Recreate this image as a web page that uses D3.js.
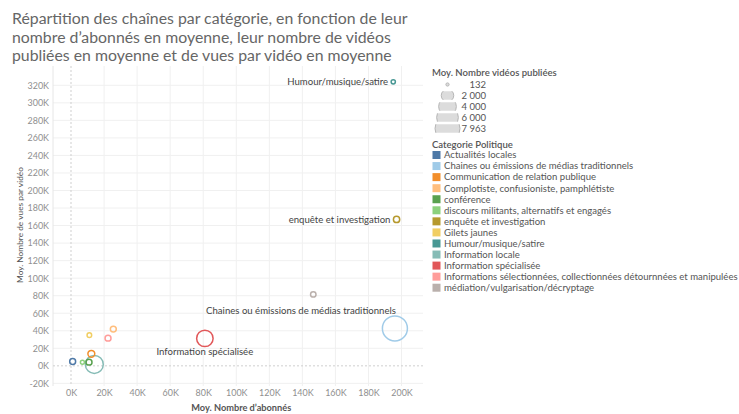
<!DOCTYPE html>
<html><head><meta charset="utf-8">
<script src="https://cdn.jsdelivr.net/npm/d3@7"></script>
<style>
body{margin:0;background:#fff;}
svg{display:block;font-family:Lato, "Open Sans", sans-serif;}
</style></head>
<body><svg id="chart" width="739" height="414"></svg>
<script>
const titleLines = [
  "Répartition des chaînes par catégorie, en fonction de leur",
  "nombre d’abonnés en moyenne, leur nombre de vidéos",
  "publiées en moyenne et de vues par vidéo en moyenne"
];
const categories = [
  "Actualités locales",
  "Chaines ou émissions de médias traditionnels",
  "Communication de relation publique",
  "Complotiste, confusioniste, pamphlétiste",
  "conférence",
  "discours militants, alternatifs et engagés",
  "enquête et investigation",
  "Gilets jaunes",
  "Humour/musique/satire",
  "Information locale",
  "Information spécialisée",
  "Informations sélectionnées, collectionnées détournnées et manipulées",
  "médiation/vulgarisation/décryptage"
];
const colors = ["#4E79A7","#A0CBE8","#F28E2B","#FFBE7D","#59A14F","#8CD17D","#B6992D","#F1CE63","#499894","#86BCB6","#E15759","#FF9D9A","#BAB0AC"];
// Moy. Nombre d'abonnés
const abonnes = [1000, 196000, 12300, 25600, 10900, 6900, 197000, 11100, 195000, 14100, 81000, 22400, 146600];
// Moy. Nombre de vues par vidéo
const vues = [5000, 42700, 13700, 41900, 4200, 4200, 167000, 35000, 324000, 1600, 31300, 31600, 81500];
// Moy. Nombre vidéos publiées
const videos = [450, 7963, 600, 450, 450, 132, 500, 270, 230, 4100, 3450, 450, 380];
const sizeLegend = [132, 2000, 4000, 6000, 7963];
const sizeLegendLabels = ["132", "2 000", "4 000", "6 000", "7 963"];
const xTicks = [0,20000,40000,60000,80000,100000,120000,140000,160000,180000,200000];
const yTicks = [-20000,0,20000,40000,60000,80000,100000,120000,140000,160000,180000,200000,220000,240000,260000,280000,300000,320000];
const labelled = ["Humour/musique/satire","enquête et investigation","Chaines ou émissions de médias traditionnels","Information spécialisée"];

const svg = d3.select("#chart");
const plot = {left:53, right:423, top:66, bottom:386};
const x = d3.scaleLinear().domain([-10900, 213000]).range([plot.left, plot.right]);
const y = d3.scaleLinear().domain([-23000, 342000]).range([plot.bottom, plot.top]);
const r = d3.scaleSqrt().domain([0, 7963]).range([0, 12.5]);
const color = d3.scaleOrdinal().domain(categories).range(colors);
const fmt = d => (d/1000) + "K";

// font size so that a sample text gets a given width
function fitSize(str, base, target, weight) {
  const t = svg.append("text").attr("font-size", base).attr("font-weight", weight || "normal").text(str);
  const w = t.node().getComputedTextLength();
  t.remove();
  return base * target / w;
}
const titleSize = fitSize(titleLines[0], 16, 396);
const legendSize = fitSize(categories[11], 10, 294);
const labelSize = fitSize(categories[1], 10, 190);
const tickSize = fitSize("320K", 10, 21.5);

// title
svg.append("g").selectAll("text").data(titleLines).join("text")
  .attr("x", 12).attr("y", (d,i)=>24 + i*18.5)
  .attr("font-size", titleSize).attr("fill", "#666").text(d=>d);

// gridlines
const grid = svg.append("g");
grid.selectAll(".gx").data(xTicks.filter(d=>d!==0)).join("line")
  .attr("x1", d=>x(d)).attr("x2", d=>x(d)).attr("y1", plot.top).attr("y2", plot.bottom)
  .attr("stroke", "#f0f0f0").attr("stroke-width", 1);
grid.selectAll(".gy").data(yTicks.filter(d=>d!==0)).join("line")
  .attr("y1", d=>y(d)).attr("y2", d=>y(d)).attr("x1", plot.left).attr("x2", plot.right)
  .attr("stroke", "#f0f0f0").attr("stroke-width", 1);
grid.append("line").attr("x1", plot.left).attr("x2", plot.left).attr("y1", plot.top).attr("y2", plot.bottom)
  .attr("stroke", "#e6e6e6");
// zero lines
grid.append("line").attr("x1", x(0)).attr("x2", x(0)).attr("y1", plot.top).attr("y2", plot.bottom)
  .attr("stroke", "#cfcfcf").attr("stroke-dasharray", "2,2");
grid.append("line").attr("y1", y(0)).attr("y2", y(0)).attr("x1", plot.left).attr("x2", plot.right)
  .attr("stroke", "#cfcfcf").attr("stroke-dasharray", "2,2");

// axes
const xAxis = svg.append("g").attr("transform", `translate(0,${plot.bottom})`)
  .call(d3.axisBottom(x).tickValues(xTicks).tickFormat(fmt).tickSize(0).tickPadding(4));
const yAxis = svg.append("g").attr("transform", `translate(${plot.left},0)`)
  .call(d3.axisLeft(y).tickValues(yTicks).tickFormat(fmt).tickSize(0).tickPadding(4));
[xAxis, yAxis].forEach(a=>{
  a.select(".domain").remove();
  a.selectAll("text").attr("font-family", "Lato, sans-serif").attr("font-size", tickSize).attr("fill", "#8f8f8f");
});
svg.append("text").attr("x", (x(0)+x(200000))/2 + 5).attr("y", 411).attr("text-anchor", "middle")
  .attr("font-size", fitSize("Moy. Nombre d’abonnés", 10, 100, "bold")).attr("font-weight", "bold").attr("fill", "#555")
  .text("Moy. Nombre d’abonnés");
svg.append("text").attr("transform", `translate(23,225) rotate(-90)`)
  .attr("text-anchor", "middle").attr("font-size", fitSize("Moy. Nombre de vues par vidéo", 10, 116)).attr("fill", "#555")
  .text("Moy. Nombre de vues par vidéo");

// marks
const data = categories.map((c,i)=>({cat:c, ab:abonnes[i], vu:vues[i], vid:videos[i]}));
svg.append("g").selectAll("circle").data(data.slice().sort((a,b)=>b.vid-a.vid)).join("circle")
  .attr("cx", d=>x(d.ab)).attr("cy", d=>y(d.vu)).attr("r", d=>Math.max(r(d.vid), 2))
  .attr("fill", "none").attr("stroke", d=>color(d.cat)).attr("stroke-width", 1.5);

// mark labels
const lab = svg.append("g").attr("font-size", labelSize).attr("fill", "#444");
data.filter(d=>labelled.includes(d.cat)).forEach(d=>{
  const cx = x(d.ab), cy = y(d.vu), rr = Math.max(r(d.vid),2);
  const t = lab.append("text").text(d.cat).attr("dy", "0.35em");
  if (d.cat === "Chaines ou émissions de médias traditionnels") {
    t.attr("x", cx + 1).attr("y", cy - 18).attr("text-anchor", "end");
  } else if (d.cat === "Information spécialisée") {
    t.attr("x", cx).attr("y", cy + 13).attr("text-anchor", "middle");
  } else {
    t.attr("x", cx - rr - 3).attr("y", cy).attr("text-anchor", "end");
  }
});

// size legend
const lg = svg.append("g").attr("font-size", legendSize).attr("fill", "#555");
lg.append("text").attr("x", 432).attr("y", 76).attr("font-weight", "600").text("Moy. Nombre vidéos publiées");
const defs = svg.append("defs");
sizeLegend.forEach((v,i)=>{
  const cy = 84.5 + i*11;
  const id = "clip"+i;
  defs.append("clipPath").attr("id", id).append("rect")
    .attr("x", 420).attr("y", cy-4.2).attr("width", 60).attr("height", 8.4);
  lg.append("circle").attr("cx", 447.5).attr("cy", cy).attr("r", Math.max(r(v),1.3))
    .attr("clip-path", `url(#${id})`)
    .attr("fill", "#dcdcdc").attr("stroke", "#b5b5b5").attr("stroke-width", 1);
  lg.append("text").attr("x", 486).attr("y", cy).attr("dy", "0.35em").attr("text-anchor", "end")
    .attr("fill", "#555").text(sizeLegendLabels[i]);
});

// color legend
lg.append("text").attr("x", 432).attr("y", 148).attr("font-weight", "600").text("Categorie Politique");
categories.forEach((c,i)=>{
  const cy = 155 + i*11.06;
  lg.append("rect").attr("x", 432.5).attr("y", cy-4).attr("width", 8).attr("height", 8).attr("fill", color(c));
  lg.append("text").attr("x", 444).attr("y", cy).attr("dy", "0.35em").attr("fill", "#555").text(c);
});
</script></body></html>
